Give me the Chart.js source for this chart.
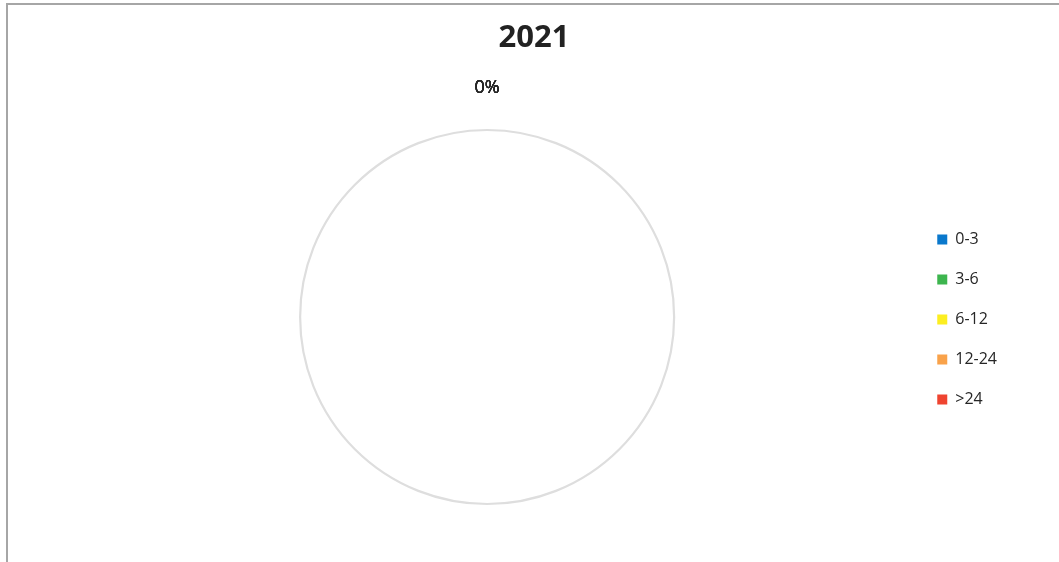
<!DOCTYPE html>
<html>
<head>
<meta charset="utf-8">
<script src="https://cdn.jsdelivr.net/npm/chart.js"></script>
<style>
  html, body { margin: 0; padding: 0; background: #ffffff; overflow: hidden; }
  #wrap { position: relative; width: 1059px; height: 562px; }
  #frame { position: absolute; left: 6px; top: 3px; width: 1200px; height: 700px;
           border-top: 2px solid #a6a6a6; border-left: 2px solid #a6a6a6; pointer-events: none; }
  canvas { position: absolute; left: 0; top: 0; }
</style>
</head>
<body>
<div id="wrap">
  <canvas id="c" width="1059" height="562"></canvas>
  <div id="frame"></div>
</div>
<script>
const chartTitle = '2021';
const categories = ['0-3', '3-6', '6-12', '12-24', '>24'];
const values = [0, 0, 0, 0, 0];
const sliceColors = ['#0a78cc', '#3db54e', '#fcee21', '#f9a24a', '#ef4430'];

const emptyPiePlugin = {
  id: 'emptyPie',
  afterDatasetsDraw(chart) {
    const meta = chart.getDatasetMeta(0);
    if (!meta.data.length) return;
    const ctx = chart.ctx;
    const first = meta.data[0].getProps(['x', 'y', 'outerRadius'], true);
    const cx = first.x, cy = first.y, r = first.outerRadius;
    const data = chart.data.datasets[0].data;
    const total = data.reduce((a, b) => a + b, 0);
    ctx.save();
    if (total === 0) {
      ctx.beginPath();
      ctx.arc(cx, cy, r - 1, 0, Math.PI * 2);
      ctx.strokeStyle = '#dedede';
      ctx.lineWidth = 2.2;
      ctx.stroke();
    }
    ctx.font = '18px "Open Sans"';
    ctx.fillStyle = '#262626';
    ctx.textAlign = 'center';
    ctx.textBaseline = 'middle';
    meta.data.forEach((arc, i) => {
      const p = arc.getProps(['startAngle', 'endAngle'], true);
      const mid = (p.startAngle + p.endAngle) / 2;
      const rr = r + 41;
      const pct = total > 0 ? Math.round(data[i] / total * 100) : 0;
      ctx.fillText(pct + '%', cx + Math.cos(mid) * rr, cy + Math.sin(mid) * rr);
    });
    ctx.restore();
  }
};

new Chart(document.getElementById('c'), {
  type: 'pie',
  data: {
    labels: categories,
    datasets: [{
      data: values,
      backgroundColor: sliceColors,
      borderColor: '#ffffff',
      borderWidth: 0
    }]
  },
  options: {
    responsive: false,
    devicePixelRatio: 1,
    animation: false,
    layout: { padding: { left: 61, right: 52, top: 0, bottom: 57 } },
    plugins: {
      title: {
        display: true,
        text: chartTitle,
        color: '#222222',
        font: { family: 'Open Sans', size: 31, weight: 'bold' },
        padding: { top: 19.4, bottom: 72.4 }
      },
      legend: {
        display: true,
        position: 'right',
        fullSize: false,
        title: {
          display: true,
          text: ' ',
          font: { size: 1 },
          padding: { top: 2, bottom: 2 }
        },
        labels: {
          boxWidth: 10,
          boxHeight: 10,
          padding: 24,
          color: '#262626',
          font: { family: 'Open Sans', size: 16 }
        }
      },
      tooltip: { enabled: false }
    }
  },
  plugins: [emptyPiePlugin]
});
</script>
</body>
</html>
